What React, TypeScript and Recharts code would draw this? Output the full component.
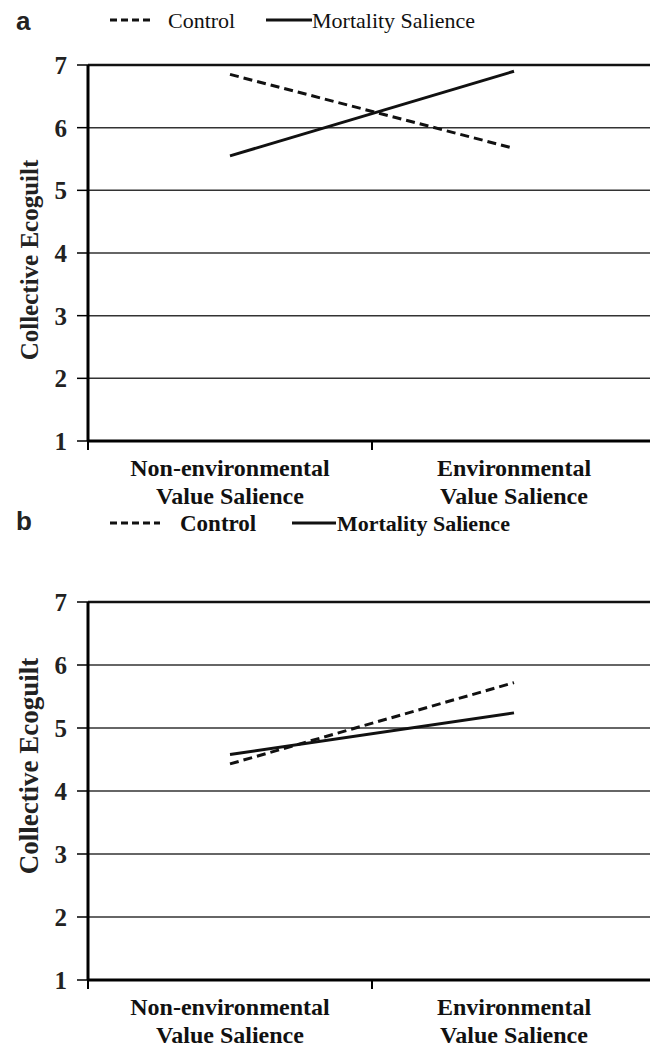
import React from 'react';
import { LineChart, Line, CartesianGrid, XAxis, YAxis, ReferenceLine } from 'recharts';

// group labels, one entry per x category (two text rows each)
const groupLabels = [
  ['Non-environmental', 'Value Salience'],
  ['Environmental', 'Value Salience'],
];
const yTicks = [1, 2, 3, 4, 5, 6, 7];

// panel a
const controlA = [6.85, 5.67];
const mortalityA = [5.55, 6.9];
// panel b
const controlB = [4.43, 5.72];
const mortalityB = [4.58, 5.24];

const SERIF = 'Liberation Serif';

const buildRows = (control: number[], mortality: number[]) =>
  groupLabels.map((_, i) => ({ pos: i + 0.5, control: control[i], mortality: mortality[i] }));

const xTicks = [0, 0.5, 1, 1.5, 2];

function makeTick(size: number, row1: number, row2: number) {
  return (props: any) => {
    const { x, y, payload } = props;
    const v = payload.value;
    if (Number.isInteger(v)) {
      if (v === 2) return <g />;
      return <line x1={x} x2={x} y1={y} y2={y + 9} stroke="#000" strokeWidth={2} />;
    }
    const lines = groupLabels[Math.floor(v)];
    return (
      <g>
        {lines.map((t, i) => (
          <text key={i} x={x} y={y + (i === 0 ? row1 : row2)} textAnchor="middle"
            fontFamily={SERIF} fontWeight={700} fontSize={size} fill="#111">
            {t}
          </text>
        ))}
      </g>
    );
  };
}

interface PanelProps {
  letter: string;
  control: number[];
  mortality: number[];
  top: number;
  height: number;
  marginTop: number;
  marginBottom: number;
  labelShift: number;
  labelSize: number;
  tickSize: number;
  legend: { y: number; dash: [number, number]; ctrlX: number; solid: [number, number]; msX: number; bold: boolean; ctrlSize: number };
}

function Panel({ letter, control, mortality, top, height, marginTop, marginBottom, labelShift, labelSize, tickSize, legend }: PanelProps) {
  const rows = buildRows(control, mortality);
  const Tick = makeTick(tickSize, 35, 63);
  const w = legend.bold ? 700 : 400;
  return (
    <div style={{ position: 'absolute', left: 0, top, width: 650, height }}>
      <svg width={650} height={40} style={{ position: 'absolute', left: 0, top: 0 }}>
        <text x={16} y={30} fontFamily="Liberation Sans" fontWeight={700} fontSize={26} fill="#222">
          {letter}
        </text>
        <line x1={legend.dash[0]} x2={legend.dash[1]} y1={legend.y} y2={legend.y} stroke="#111" strokeWidth={3} strokeDasharray="7 4" />
        <text x={legend.ctrlX} y={legend.y + 8} fontFamily={SERIF} fontWeight={w} fontSize={legend.ctrlSize} fill="#111">
          Control
        </text>
        <line x1={legend.solid[0]} x2={legend.solid[1]} y1={legend.y} y2={legend.y} stroke="#111" strokeWidth={3} />
        <text x={legend.msX} y={legend.y + 8} fontFamily={SERIF} fontWeight={w} fontSize={22} fill="#111">
          Mortality Salience
        </text>
      </svg>
      <LineChart width={660} height={height} data={rows}
        margin={{ top: marginTop, right: 4, left: 0, bottom: marginBottom }}>
        <CartesianGrid vertical={false} stroke="#333" strokeWidth={1.5} />
        <ReferenceLine y={7} stroke="#111" strokeWidth={2.5} />
        <XAxis dataKey="pos" type="number" domain={[0, 2]} ticks={xTicks} interval={0}
          height={60} tickLine={false} tickSize={0} tickMargin={0}
          axisLine={{ stroke: '#000', strokeWidth: 3 }} tick={<Tick />} />
        <YAxis type="number" domain={[1, 7]} ticks={yTicks} interval={0} width={88}
          tickSize={11} tickMargin={10}
          axisLine={{ stroke: '#000', strokeWidth: 3 }} tickLine={{ stroke: '#000', strokeWidth: 1.5 }}
          tick={{ fontFamily: SERIF, fontWeight: 700, fontSize: 25, fill: '#222' }}
          label={({ viewBox }: any) => {
            const cy = viewBox.y + viewBox.height / 2 + labelShift;
            return (
              <text x={38} y={cy} transform={`rotate(-90 38 ${cy})`} textAnchor="middle"
                fontFamily={SERIF} fontWeight={700} fontSize={labelSize} fill="#222">
                Collective Ecoguilt
              </text>
            );
          }} />
        <Line type="linear" dataKey="control" stroke="#111" strokeWidth={3} strokeDasharray="9 5"
          dot={false} isAnimationActive={false} />
        <Line type="linear" dataKey="mortality" stroke="#111" strokeWidth={3}
          dot={false} isAnimationActive={false} />
      </LineChart>
    </div>
  );
}

export default function App() {
  return (
    <div style={{ position: 'absolute', left: 0, top: 0, width: 650, height: 1049, overflow: 'hidden', background: '#fff' }}>
      <Panel letter="a" control={controlA} mortality={mortalityA} top={0} height={520}
        marginTop={65} marginBottom={19} labelShift={7} labelSize={25} tickSize={24}
        legend={{ y: 20, dash: [110, 150], ctrlX: 168, solid: [266, 312], msX: 312, bold: false, ctrlSize: 22 }} />
      <Panel letter="b" control={controlB} mortality={mortalityB} top={500} height={549}
        marginTop={102} marginBottom={9} labelShift={-25} labelSize={27} tickSize={24}
        legend={{ y: 23, dash: [110, 160], ctrlX: 180, solid: [292, 336], msX: 337, bold: true, ctrlSize: 23 }} />
    </div>
  );
}
